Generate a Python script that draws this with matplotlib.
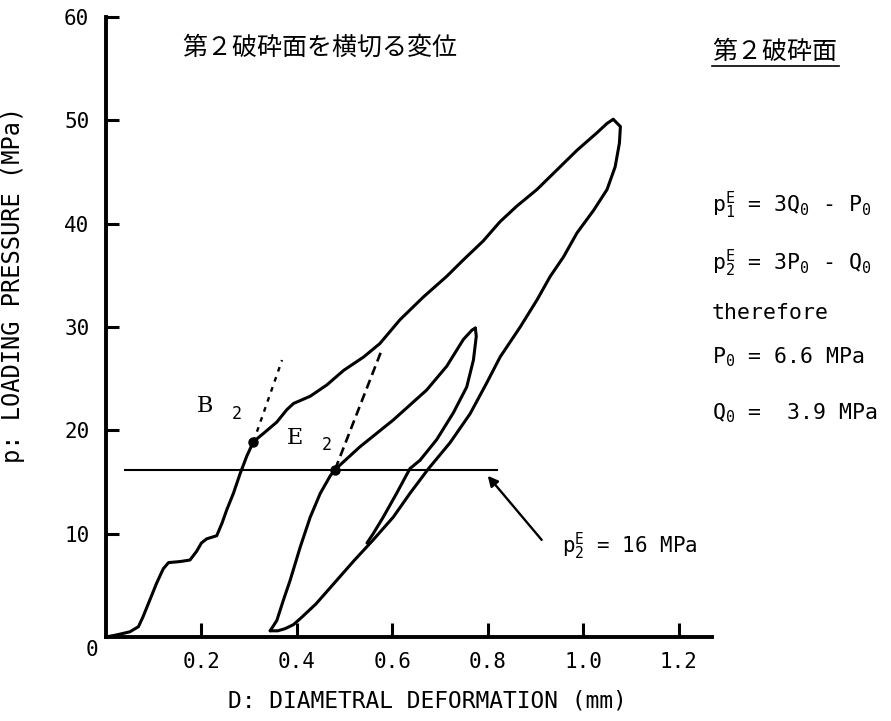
import numpy as np
import matplotlib
matplotlib.use("Agg")
import matplotlib.pyplot as plt
from matplotlib.lines import Line2D

plt.rcParams["mathtext.fontset"] = "custom"
plt.rcParams["mathtext.rm"] = "DejaVu Sans Mono"
plt.rcParams["mathtext.it"] = "DejaVu Sans Mono"
MONO = "DejaVu Sans Mono"
CJK = ["Noto Sans CJK JP", "DejaVu Sans"]

# first loading (through B2) up to the 50 MPa peak
load1_x = [0.000, 0.022, 0.050, 0.068, 0.078, 0.092, 0.106, 0.120, 0.131, 0.155, 0.176,
           0.190, 0.200, 0.211, 0.232, 0.243, 0.253, 0.267, 0.281, 0.295, 0.309, 0.330,
           0.358, 0.379, 0.393, 0.428, 0.463, 0.498, 0.540, 0.574, 0.616, 0.665, 0.714,
           0.749, 0.790, 0.826, 0.861, 0.903, 0.945, 0.987, 1.029, 1.050, 1.063]
load1_y = [0.0, 0.2, 0.5, 1.0, 2.0, 3.6, 5.2, 6.6, 7.2, 7.3, 7.45,
           8.3, 9.1, 9.5, 9.8, 11.0, 12.3, 13.9, 15.8, 17.5, 18.9, 19.7,
           20.8, 22.0, 22.6, 23.3, 24.4, 25.8, 27.1, 28.4, 30.7, 32.9, 34.9,
           36.5, 38.3, 40.2, 41.7, 43.3, 45.2, 47.1, 48.8, 49.7, 50.1]
# unloading from the peak
unload1_x = [1.063, 1.078, 1.076, 1.067, 1.050, 1.022, 0.987, 0.959, 0.931, 0.903, 0.868,
             0.826, 0.798, 0.763, 0.721, 0.676, 0.637, 0.602, 0.560, 0.520, 0.480, 0.440,
             0.410, 0.393, 0.375, 0.360, 0.344]
unload1_y = [50.1, 49.4, 47.8, 45.5, 43.3, 41.3, 39.1, 36.8, 34.9, 32.6, 30.0,
             27.1, 24.6, 21.6, 18.8, 16.3, 13.9, 11.6, 9.4, 7.4, 5.3, 3.2,
             1.9, 1.2, 0.8, 0.6, 0.6]
# second loading (through E2) and its unloading
load2_x = [0.344, 0.358, 0.372, 0.386, 0.407, 0.428, 0.449, 0.470, 0.480, 0.532, 0.602,
           0.672, 0.714, 0.749, 0.767, 0.774]
load2_y = [0.6, 1.6, 3.6, 5.5, 8.7, 11.6, 13.9, 15.6, 16.2, 18.4, 21.0,
           23.9, 26.2, 28.8, 29.7, 29.9]
unload2_x = [0.774, 0.776, 0.770, 0.756, 0.728, 0.693, 0.658, 0.637, 0.609, 0.581, 0.560, 0.547]
unload2_y = [29.9, 29.1, 26.8, 24.2, 21.7, 19.1, 17.1, 16.3, 13.9, 11.6, 10.0, 9.1]

B2 = (0.309, 18.9)
E2 = (0.480, 16.2)
B2_tangent_end = (0.369, 26.8)
E2_tangent_end = (0.578, 27.8)
p2E_level = 16.2
p2E_span = (0.040, 0.820)

xticks = [0.2, 0.4, 0.6, 0.8, 1.0, 1.2]
yticks = [10, 20, 30, 40, 50, 60]

fig = plt.figure(figsize=(8.91, 7.21), dpi=100)
ax = fig.add_axes([106 / 891, 1 - 637 / 721, (712 - 106) / 891, (637 - 17) / 721])

lw = 2.2
for xs, ys in ((load1_x, load1_y), (unload1_x, unload1_y),
               (load2_x, load2_y), (unload2_x, unload2_y)):
    ax.plot(xs, ys, color="black", lw=lw, solid_capstyle="round", solid_joinstyle="round")

ax.plot(p2E_span, [p2E_level, p2E_level], color="black", lw=1.5)
ax.plot([B2[0], B2_tangent_end[0]], [B2[1], B2_tangent_end[1]], color="black",
        lw=1.7, ls=(0, (2, 2.5)))
ax.plot([E2[0], E2_tangent_end[0]], [E2[1], E2_tangent_end[1]], color="black",
        lw=1.9, ls=(0, (3.5, 2)))
ax.plot(*B2, "o", color="black", ms=6.5)
ax.plot(*E2, "o", color="black", ms=6.5)

ax.text(0.208, 22.4, "B", family="DejaVu Serif", fontsize=16, ha="center", va="center")
ax.text(0.275, 21.6, "2", family=MONO, fontsize=12, ha="center", va="center")
ax.text(0.396, 19.3, "E", family="DejaVu Serif", fontsize=16, ha="center", va="center")
ax.text(0.463, 18.6, "2", family=MONO, fontsize=12, ha="center", va="center")

ax.annotate("", xy=(0.800, 15.6), xytext=(0.913, 9.4),
            arrowprops=dict(arrowstyle="-|>", color="black", lw=1.7,
                            mutation_scale=15, shrinkA=0, shrinkB=0))
ax.text(0.955, 8.8, r"$\mathrm{p}_2^E$ = 16 MPa", family=MONO, fontsize=15,
        ha="left", va="center")

ax.set_xlim(0, 1.27)
ax.set_ylim(0, 60)
for s in ("top", "right"):
    ax.spines[s].set_visible(False)
for s in ("left", "bottom"):
    ax.spines[s].set_linewidth(2.8)
ax.set_xticks(xticks)
ax.set_xticklabels([f"{v:.1f}" for v in xticks], family=MONO, fontsize=15)
ax.set_yticks(yticks)
ax.set_yticklabels([str(v) for v in yticks], family=MONO, fontsize=15)
ax.tick_params(axis="x", direction="in", length=10, width=2.2, pad=11)
ax.tick_params(axis="y", direction="in", length=9, width=2.2, pad=12)
ax.text(-0.03, -1.3, "0", family=MONO, fontsize=15, ha="center", va="center",
        transform=ax.transData, clip_on=False)

ax.set_xlabel("D: DIAMETRAL DEFORMATION (mm)", family=MONO, fontsize=16.5)
ax.xaxis.set_label_coords(0.531, -0.085)
ax.set_ylabel("p: LOADING PRESSURE (MPa)", family=MONO, fontsize=17)
ax.yaxis.set_label_coords(-0.134, 0.568)

fig.text(320 / 891, 1 - 48 / 721, "第２破砕面を横切る変位", family=CJK, fontsize=18,
         ha="center", va="center")
fig.text(775 / 891, 1 - 52 / 721, "第２破砕面", family=CJK, fontsize=18,
         ha="center", va="center")
fig.add_artist(Line2D([712 / 891, 839 / 891], [1 - 66 / 721, 1 - 66 / 721],
                      color="black", lw=1.2))

eq_x = 712 / 891
eq_fs = 15.5
fig.text(eq_x, 1 - 205 / 721, r"$\mathrm{p}_1^E$ = 3Q$_0$ - P$_0$", family=MONO,
         fontsize=eq_fs, ha="left", va="center")
fig.text(eq_x, 1 - 263 / 721, r"$\mathrm{p}_2^E$ = 3P$_0$ - Q$_0$", family=MONO,
         fontsize=eq_fs, ha="left", va="center")
fig.text(eq_x, 1 - 313 / 721, "therefore", family=MONO, fontsize=eq_fs,
         ha="left", va="center")
fig.text(eq_x, 1 - 357 / 721, r"P$_0$ = 6.6 MPa", family=MONO, fontsize=eq_fs,
         ha="left", va="center")
fig.text(eq_x, 1 - 413 / 721, r"Q$_0$ =  3.9 MPa", family=MONO, fontsize=eq_fs,
         ha="left", va="center")

fig.savefig("out.png", dpi=100)
